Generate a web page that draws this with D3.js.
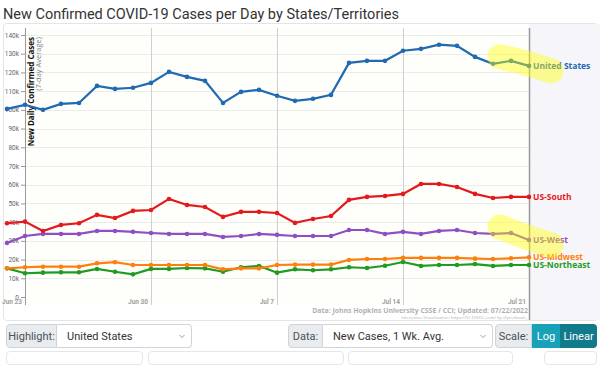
<!DOCTYPE html>
<html>
<head>
<meta charset="utf-8">
<script src="https://cdn.jsdelivr.net/npm/d3@7"></script>
<style>
  body { margin: 0; background: #fff; font-family: Roboto, "Noto Sans", sans-serif; }
  #wrap { position: relative; width: 600px; height: 388px; overflow: hidden; }
  .grp { position: absolute; top: 324px; height: 24px; display: flex; font-size: 11px; color: #495057; }
  .lab { background: #e9ecef; border: 1px solid #ced4da; border-radius: 4px 0 0 4px; box-sizing: border-box;
         display: flex; align-items: center; justify-content: center; }
  .sel { background: #fff; border: 1px solid #ced4da; border-left: none; border-radius: 0 4px 4px 0; box-sizing: border-box;
         display: flex; align-items: center; padding-left: 10px; position: relative; color: #333; }
  .sel svg { position: absolute; right: 6px; top: 9px; }
  .btn { display: flex; align-items: center; justify-content: center; color: #fff; box-sizing: border-box; }
  .ghost { position: absolute; top: 351px; height: 14px; border: 1px solid #e6e6e6; border-radius: 4px; box-sizing: border-box; }
</style>
</head>
<body>
<div id="wrap">
  <svg id="chart" width="600" height="322"></svg>
  <div class="grp" style="left:6px;width:186px">
    <div class="lab" style="width:51px">Highlight:</div>
    <div class="sel" style="width:135px">United States<svg width="6" height="5"><path d="M0.5,1 L3,3.5 L5.5,1" fill="none" stroke="#888" stroke-width="0.8"/></svg></div>
  </div>
  <div class="grp" style="left:288px;width:205px">
    <div class="lab" style="width:35px">Data:</div>
    <div class="sel" style="width:170px">New Cases, 1 Wk. Avg.<svg width="6" height="5"><path d="M0.5,1 L3,3.5 L5.5,1" fill="none" stroke="#888" stroke-width="0.8"/></svg></div>
  </div>
  <div class="grp" style="left:495px;width:102px">
    <div class="lab" style="width:37px">Scale:</div>
    <div class="btn" style="width:28px;background:#17a2b8">Log</div>
    <div class="btn" style="width:37px;background:#117a8b;border-radius:0 4px 4px 0">Linear</div>
  </div>
  <div class="ghost" style="left:6px;width:137px"></div>
  <div class="ghost" style="left:148px;width:196px"></div>
  <div class="ghost" style="left:348px;width:165px"></div>
  <div class="ghost" style="left:544px;width:53px"></div>
</div>
<script>
// Chart data (7-day averages)
var dates = ["2022-06-22","2022-06-23","2022-06-24","2022-06-25","2022-06-26","2022-06-27","2022-06-28","2022-06-29",
  "2022-06-30","2022-07-01","2022-07-02","2022-07-03","2022-07-04","2022-07-05","2022-07-06","2022-07-07","2022-07-08",
  "2022-07-09","2022-07-10","2022-07-11","2022-07-12","2022-07-13","2022-07-14","2022-07-15","2022-07-16","2022-07-17",
  "2022-07-18","2022-07-19","2022-07-20","2022-07-21"];
var unitedStates = [100500,102700,100000,103200,103700,112800,111200,111800,114400,120300,117600,115500,103700,109600,110700,
  107500,104800,105900,108000,125100,126200,126200,131600,132600,134800,134200,128300,124600,126200,123500];
var usSouth = [39400,40300,35300,38500,39400,43900,42200,46000,46500,52400,49200,48100,42800,45500,45500,44900,39600,41700,
  43300,51900,53500,54000,55100,60400,60400,58800,55100,52900,53500,53500];
var usWest = [28900,32600,33700,33700,33700,35300,35300,34800,34200,33700,33700,33700,32100,32600,33700,33200,32600,32600,
  32600,35800,35800,33700,34800,33700,35300,35800,34200,33700,34200,30500];
var usMidwest = [15300,15900,16200,16200,16200,18000,18600,17100,17100,17100,17100,17100,14800,15300,15300,17100,17300,17300,
  17300,19800,20300,20300,20900,20900,20900,20900,20500,20300,20700,21200];
var usNortheast = [15300,12700,13000,13200,13200,15000,13500,12100,15000,15000,15500,15300,13500,15900,16600,13000,14800,
  14300,14800,15900,15500,16700,18700,16600,17100,17100,17600,16600,17100,17100];
var seriesNames = ["United States","US-South","US-West","US-Midwest","US-Northeast"];
var seriesColors = ["#1f6ab2","#e3191c","#8f4fc2","#ff7f0e","#1f9a22"];
var yTicks = [0,10000,20000,30000,40000,50000,60000,70000,80000,90000,100000,110000,120000,130000,140000];
var xTickDates = ["2022-06-23","2022-06-30","2022-07-07","2022-07-14","2022-07-21"];
var highlighted = ["United States","US-West"];

var parse = d3.timeParse("%Y-%m-%d");
var allValues = [unitedStates, usSouth, usWest, usMidwest, usNortheast];
var series = seriesNames.map(function(n, i) {
  return {name: n, color: seriesColors[i], values: allValues[i].map(function(v, j) { return {date: parse(dates[j]), value: v}; })};
});

var svg = d3.select("#chart");
var plotLeft = 25, plotRight = 529, plotTop = 35, plotBottom = 297;

var x = d3.scaleTime().domain([parse("2022-06-23"), parse("2022-07-21")]).range([plotLeft, plotRight]);
var y = d3.scaleLinear().domain([0, 140000]).range([plotBottom, plotTop]);

// Title
svg.append("text").attr("x", 3).attr("y", 19)
  .attr("textLength", 396).attr("lengthAdjust", "spacingAndGlyphs")
  .style("font-family", "Roboto, sans-serif").style("font-size", "15.5px").style("fill", "#333")
  .text("New Confirmed COVID-19 Cases per Day by States/Territories");

// frame and backgrounds
svg.append("rect").attr("x", 3.5).attr("y", 23.5).attr("width", 594).attr("height", 297)
  .attr("rx", 3).style("fill", "#fff").style("stroke", "#e4e4e4");
svg.append("rect").attr("x", plotLeft).attr("y", 28).attr("width", plotRight - plotLeft).attr("height", 277).style("fill", "#fefefa");
svg.append("rect").attr("x", plotRight).attr("y", 24).attr("width", 73).attr("height", 296).style("fill", "#f6f6fa");

// horizontal grid
svg.append("g").selectAll("line").data(yTicks.slice(1)).enter().append("line")
  .attr("x1", plotLeft).attr("x2", plotRight)
  .attr("y1", function(d) { return Math.round(y(d)) + 0.5; }).attr("y2", function(d) { return Math.round(y(d)) + 0.5; })
  .style("stroke", "#ececec").style("stroke-width", 1);

// week lines
svg.append("g").selectAll("line").data(xTickDates).enter().append("line")
  .attr("x1", function(d) { return Math.round(x(parse(d))) + 0.5; })
  .attr("x2", function(d) { return Math.round(x(parse(d))) + 0.5; })
  .attr("y1", 28).attr("y2", function(d, i) { return i == xTickDates.length - 1 ? 320 : 305; })
  .style("stroke", function(d, i) { return i == 0 || i == xTickDates.length - 1 ? "#9a9a9a" : "#cfcfcf"; })
  .style("stroke-width", function(d, i) { return i == xTickDates.length - 1 ? 1.5 : 1; });

// y axis ticks and labels
var yAxis = svg.append("g").attr("transform", "translate(" + plotLeft + ",0)")
  .call(d3.axisLeft(y).tickValues(yTicks).tickSize(4).tickPadding(2)
    .tickFormat(function(d) { return d == 0 ? "0" : (d / 1000) + "k"; }));
yAxis.select(".domain").remove();
yAxis.selectAll("line").style("stroke", "#999");
yAxis.selectAll("text").style("font-family", "Roboto, sans-serif").style("font-size", "6.5px").style("fill", "#666");

// x labels (right aligned against their week line)
var fmt = d3.timeFormat("%b %-d");
svg.append("g").selectAll("text").data(xTickDates).enter().append("text")
  .attr("x", function(d) { return x(parse(d)) - 3; }).attr("y", 303.5)
  .attr("text-anchor", "end")
  .style("font-family", "Roboto, sans-serif").style("font-weight", "bold").style("font-size", "6.5px").style("fill", "#a0a0a0")
  .text(function(d) { return fmt(parse(d)); });

// y axis title
svg.append("text").attr("transform", "translate(34,37) rotate(-90)").attr("text-anchor", "end")
  .style("font-family", "'Open Sans', sans-serif").style("font-weight", "bold").style("font-size", "8px").style("fill", "#111")
  .text("New Daily Confirmed Cases");
svg.append("text").attr("transform", "translate(41,37) rotate(-90)").attr("text-anchor", "end")
  .style("font-family", "'Open Sans', sans-serif").style("font-size", "7.5px").style("fill", "#888")
  .text("(7-day Average)");

// lines and points
var line = d3.line().x(function(d) { return x(d.date); }).y(function(d) { return y(d.value); });
var lines = svg.append("g");
series.slice().reverse().forEach(function(s) {
  lines.append("path").datum(s.values).attr("d", line)
    .style("fill", "none").style("stroke", s.color).style("stroke-width", 2.2);
  lines.selectAll(null).data(s.values).enter().append("circle")
    .attr("cx", function(d) { return x(d.date); }).attr("cy", function(d) { return y(d.value); })
    .attr("r", 2.3).style("fill", s.color);
});

// end labels
svg.append("g").selectAll("text").data(series).enter().append("text")
  .attr("x", plotRight + 4).attr("y", function(d) { return y(d.values[d.values.length - 1].value); })
  .attr("dy", "0.35em")
  .style("font-family", "'Open Sans', sans-serif").style("font-weight", "bold").style("font-size", "8.5px")
  .style("fill", function(d) { return d.color; })
  .text(function(d) { return d.name; });

// yellow highlighter strokes over the last points of highlighted series
var hl = svg.append("g");
series.filter(function(s) { return highlighted.indexOf(s.name) >= 0; }).forEach(function(s) {
  var n = s.values.length;
  var a = s.values[n - 3], b = s.values[n - 1];
  var pts = [[x(a.date) + 7, y(a.value) - 7], [x(b.date), y(b.value) - 2], [x(b.date) + 22, y(b.value) + 5]];
  hl.append("path").attr("d", d3.line().curve(d3.curveCatmullRom)(pts))
    .style("fill", "none").style("stroke", "#ffff00").style("stroke-opacity", 0.42)
    .style("stroke-width", 25).style("stroke-linecap", "round");
});

// source
svg.append("text").attr("x", 528).attr("y", 313).attr("text-anchor", "end")
  .style("font-family", "'Open Sans', sans-serif").style("font-weight", "bold").style("font-size", "6.9px").style("fill", "#b0b0b0")
  .text("Data: Johns Hopkins University CSSE / CCI; Updated: 07/22/2022");
svg.append("text").attr("x", 528).attr("y", 319).attr("text-anchor", "end")
  .style("font-family", "'Open Sans', sans-serif").style("font-size", "4.3px").style("fill", "#b0b0b0")
  .text("Interactive Visualization: https://91-DIVOC.com/ by @profwade_");
</script>
</body>
</html>
